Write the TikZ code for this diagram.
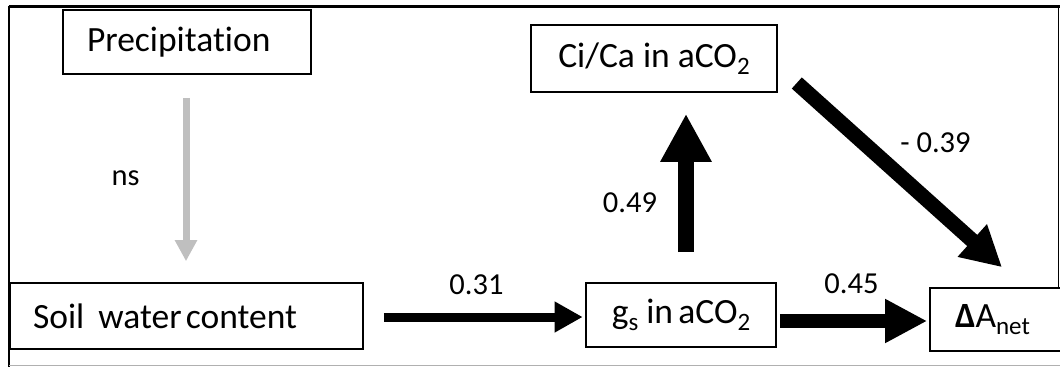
\documentclass[tikz,border=0pt]{standalone}
\usepackage{fontspec}
\setmainfont{Carlito}[Ligatures={NoCommon}]
\usetikzlibrary{arrows.meta,calc}
\definecolor{arrgray}{HTML}{BFBFBF}
\definecolor{linegray}{HTML}{B0B0B0}
\newcommand\subtxt[1]{\raisebox{-0.2em}{\fontsize{25}{25}\selectfont #1}}
\begin{document}
\begin{tikzpicture}[x=1pt,y=-1pt,
  box/.style={draw=black,line width=1.6pt,inner ysep=0pt,font=\fontsize{35.5}{42}\selectfont},
  lbl/.style={font=\fontsize{30.5}{36}\selectfont,inner sep=0pt,anchor=base},
  conn/.style={draw=black,line width=#1}]
\useasboundingbox (0,0) rectangle (1060,367);
\clip (0,0) rectangle (1060,367);
% frame
\draw[black,line width=3pt] (8.5,6) -- (1060,6);
\draw[black,line width=1.5pt] (9,6) -- (9,367);
\draw[black,line width=1.5pt] (1058.5,6) -- (1058.5,288);
\draw[linegray,line width=1.5pt] (9,365.5) -- (1060,365.5);
% boxes
\node[box,minimum width=248pt,minimum height=64pt,inner xsep=24pt,text width=200pt,align=left] (prec) at (187,42) {Precipitation};
\node[box,minimum width=353pt,minimum height=66pt,inner xsep=23pt,text width=307pt,align=left] (soil) at (186.5,316) {Soil\hspace{0.4em}water\hspace{0.12em}content};
\node[box,minimum width=246pt,minimum height=67pt,inner xsep=0pt] (ci) at (654,58.5) {Ci/Ca in aCO\subtxt{2}};
\node[box,minimum width=190pt,minimum height=64pt,inner xsep=0pt] (gs) at (681,315) {g\subtxt{s} in\hspace{0.15em}aCO\subtxt{2}};
\node[box,minimum width=140pt,minimum height=63pt,inner xsep=25pt,text width=90pt,align=left] (dA) at (1000,319.5) {{\bfseries Δ}A\subtxt{net}};
% connectors
\draw[conn=7pt,draw=arrgray,-{Triangle[width=21pt,length=21pt,fill=arrgray]}] ([xshift=-1pt,yshift=-23pt]prec.south) -- ([xshift=-0.5pt,yshift=21pt]soil.north);
\draw[conn=9pt,-{Triangle[width=29pt,length=28pt]}] ([xshift=20pt,yshift=-1pt]soil.east) -- ([xshift=-2.5pt,yshift=-2pt]gs.west);
\draw[conn=14pt,-{Triangle[width=41pt,length=42pt]}] ([xshift=3pt,yshift=-6pt]gs.east) -- ([xshift=-2pt,yshift=-1.5pt]dA.west);
\draw[conn=16pt,-{Triangle[width=48pt,length=48pt]}] ([xshift=5pt,yshift=30pt]gs.north) -- ([xshift=32pt,yshift=-21pt]ci.south);
\draw[conn=15pt,-{Triangle[width=41pt,length=40pt]}] ([xshift=19pt,yshift=-24.5pt]ci.east) -- ([xshift=2pt,yshift=20pt]dA.north);
% labels
\node[lbl] (lns) at (125.5,185) {ns};
\node[lbl] (l049) at (630,212) {0.49};
\node[lbl] (l039) at (935.5,152) {- 0.39};
\node[lbl] (l031) at (476.5,294) {0.31};
\node[lbl] (l045) at (851.5,293) {0.45};
\end{tikzpicture}
\end{document}
